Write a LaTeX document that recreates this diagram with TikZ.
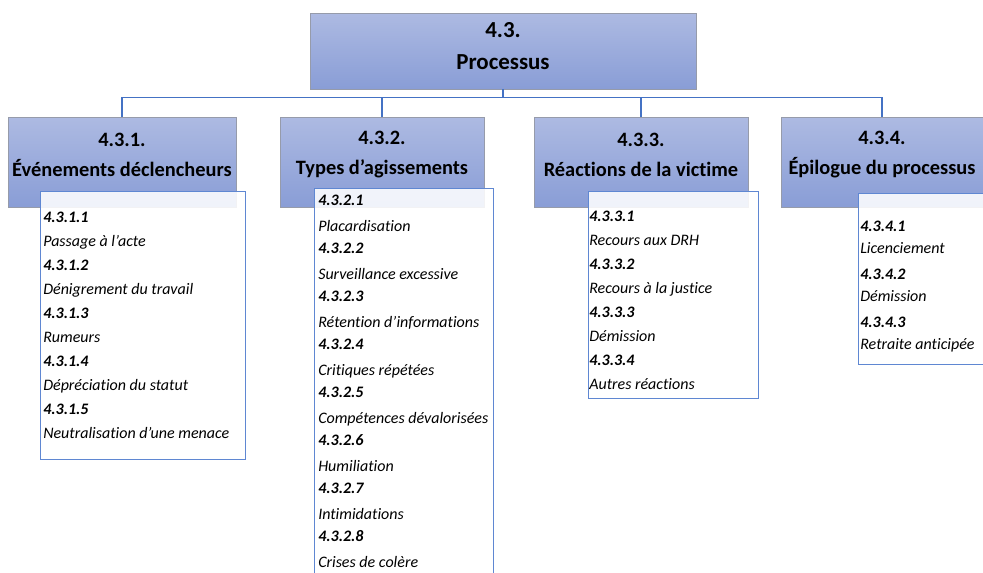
\documentclass[tikz,border=0pt]{standalone}
\usepackage{fontspec}
\setmainfont{Carlito}[Ligatures={TeX,NoCommon}]
\usetikzlibrary{positioning}
\definecolor{headtop}{RGB}{173,186,226}
\definecolor{headbot}{RGB}{137,157,214}
\definecolor{headrim}{RGB}{150,155,170}
\definecolor{linkblue}{RGB}{68,114,196}
\definecolor{listrim}{RGB}{95,135,210}
\tikzset{
  head/.style 2 args={draw=headrim, top color=headtop, bottom color=headbot,
    minimum width=#1*0.75pt, minimum height=#2*0.75pt, inner sep=0pt},
  headtext/.style={align=center, inner sep=0pt,
    font=\bfseries\fontsize{15.3}{22.5}\selectfont},
  listbox/.style 2 args={draw=listrim, fill=white, fill opacity=0.88,
    anchor=north west, minimum width=#1*0.75pt, minimum height=#2*0.75pt,
    inner sep=0pt},
  num/.style={anchor=west, inner sep=0pt, text height=8pt, text depth=3pt,
    font=\bfseries\itshape\fontsize{12}{14}\selectfont},
  entry/.style={anchor=west, inner sep=0pt, text height=8pt, text depth=3pt,
    font=\itshape\fontsize{12}{14}\selectfont},
  link/.style={draw=linkblue, line width=0.8pt}
}

\begin{document}
\begin{tikzpicture}[x=0.75pt, y=-0.75pt]
\useasboundingbox (0,0) rectangle (983,572);
% headers
\node[head={386}{76}] (top) at (503,51) {};
\node[headtext, font=\bfseries\fontsize{17.2}{24}\selectfont] (topt) at (503,46)
  {4.3.\\Processus};
\foreach \k/\x/\w/\txt in {%
  1/122/228/Événements déclencheurs,
  2/382/204/Types d'agissements,
  3/641/214/Réactions de la victime,
  4/882/202/Épilogue du processus%
} {
  \node[head={\w}{90}] (h\k) at (\x,162) {};
  \node[headtext] (ht\k) at (\x,155) {4.3.\k.\\\txt};
  \draw[link] (top.south) -- ++(0,8) -| (h\k.north);
}
% lists
\node[listbox={205}{268}] (l1) at (40,191) {};
\node[listbox={179}{392}] (l2) at (314,188) {};
\node[listbox={170}{207}] (l3) at (588,191) {};
\node[listbox={132}{171}] (l4) at (858,193) {};
\foreach \n/\t [count=\i from 0] in {%
  4.3.1.1/Passage à l'acte,
  4.3.1.2/Dénigrement du travail,
  4.3.1.3/Rumeurs,
  4.3.1.4/Dépréciation du statut,
  4.3.1.5/Neutralisation d'une menace%
} {
  \node[num] (a\i) at (43,219+48*\i) {\n};
  \node[entry] (ae\i) at (43,243+48*\i) {\t};
}
\foreach \n/\t [count=\i from 0] in {%
  4.3.2.1/Placardisation,
  4.3.2.2/Surveillance excessive,
  4.3.2.3/Rétention d'informations,
  4.3.2.4/Critiques répétées,
  4.3.2.5/Compétences dévalorisées,
  4.3.2.6/Humiliation,
  4.3.2.7/Intimidations,
  4.3.2.8/Crises de colère%
} {
  \node[num] (b\i) at (318,202+48*\i) {\n};
  \node[entry] (be\i) at (318,228+48*\i) {\t};
}
\foreach \n/\t [count=\i from 0] in {%
  4.3.3.1/Recours aux DRH,
  4.3.3.2/Recours à la justice,
  4.3.3.3/Démission,
  4.3.3.4/Autres réactions%
} {
  \node[num] (c\i) at (589,218+48*\i) {\n};
  \node[entry] (ce\i) at (589,242+48*\i) {\t};
}
\foreach \n/\t [count=\i from 0] in {%
  4.3.4.1/Licenciement,
  4.3.4.2/Démission,
  4.3.4.3/Retraite anticipée%
} {
  \node[num] (d\i) at (860,228+48*\i) {\n};
  \node[entry] (de\i) at (860,250+48*\i) {\t};
}
\end{tikzpicture}
\end{document}
